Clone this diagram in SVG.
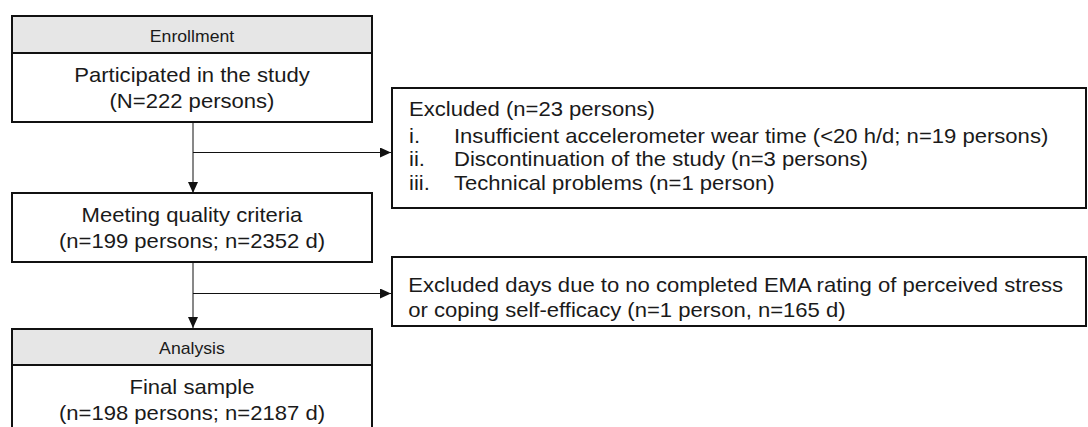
<svg xmlns="http://www.w3.org/2000/svg" width="1088" height="427" viewBox="0 0 1088 427">
<defs>
<style>
.box{fill:#ffffff;stroke:#111111;stroke-width:2}
.hdr{fill:#e6e6e6;stroke:#111111;stroke-width:2}
.t{font-family:"Liberation Sans",Arial,sans-serif;font-size:20px;fill:#1a1a1a}
.h{font-family:"Liberation Sans",Arial,sans-serif;font-size:16px;fill:#1a1a1a}
.c{text-anchor:middle}
.ln{fill:none;stroke:#111111;stroke-width:1}
</style>
<marker id="arr" markerUnits="userSpaceOnUse" markerWidth="11" markerHeight="10" refX="11" refY="5" orient="auto">
<path d="M0,0 L11,5 L0,10 Z" fill="#111111"/>
</marker>
</defs>
<g id="connectors">
<line class="ln" x1="193" y1="123" x2="193" y2="193" marker-end="url(#arr)"/>
<line class="ln" x1="193" y1="152.5" x2="391" y2="152.5" marker-end="url(#arr)"/>
<line class="ln" x1="193" y1="263" x2="193" y2="328" marker-end="url(#arr)"/>
<line class="ln" x1="193" y1="293.5" x2="391" y2="293.5" marker-end="url(#arr)"/>
</g>
<g id="enrollment">
<rect class="box" x="12" y="16" width="360" height="106"/>
<rect class="hdr" x="12" y="16" width="360" height="37"/>
<text class="h c" transform="scale(1.104,1)" x="173.9" y="42">Enrollment</text>
<text class="t c" transform="scale(1.104,1)" x="173.9" y="82">Participated in the study</text>
<text class="t c" transform="scale(1.104,1)" x="173.9" y="108">(N=222 persons)</text>
</g>
<g id="excluded">
<rect class="box" x="392" y="88" width="694" height="120"/>
<text class="t" transform="scale(1.104,1)" x="370.5" y="116">Excluded (n=23 persons)</text>
<text class="t" transform="scale(1.104,1)" x="370.5" y="143">i.</text>
<text class="t" transform="scale(1.104,1)" x="411.2" y="143">Insufficient accelerometer wear time (&lt;20 h/d; n=19 persons)</text>
<text class="t" transform="scale(1.104,1)" x="370.5" y="166.5">ii.</text>
<text class="t" transform="scale(1.104,1)" x="411.2" y="166.5">Discontinuation of the study (n=3 persons)</text>
<text class="t" transform="scale(1.104,1)" x="370.5" y="190">iii.</text>
<text class="t" transform="scale(1.104,1)" x="411.2" y="190">Technical problems (n=1 person)</text>
</g>
<g id="quality">
<rect class="box" x="12" y="193" width="360" height="69"/>
<text class="t c" transform="scale(1.104,1)" x="173.9" y="222">Meeting quality criteria</text>
<text class="t c" transform="scale(1.104,1)" x="173.9" y="248">(n=199 persons; n=2352 d)</text>
</g>
<g id="excluded-days">
<rect class="box" x="392" y="257" width="694" height="69"/>
<text class="t" transform="scale(1.104,1)" x="369.8" y="292.5">Excluded days due to no completed EMA rating of perceived stress</text>
<text class="t" transform="scale(1.104,1)" x="369.8" y="317">or coping self-efficacy (n=1 person, n=165 d)</text>
</g>
<g id="analysis">
<rect class="box" x="12" y="329" width="360" height="120"/>
<rect class="hdr" x="12" y="329" width="360" height="36"/>
<text class="h c" transform="scale(1.104,1)" x="173.9" y="354.5">Analysis</text>
<text class="t c" transform="scale(1.104,1)" x="173.9" y="394">Final sample</text>
<text class="t c" transform="scale(1.104,1)" x="173.9" y="420">(n=198 persons; n=2187 d)</text>
</g>
</svg>
